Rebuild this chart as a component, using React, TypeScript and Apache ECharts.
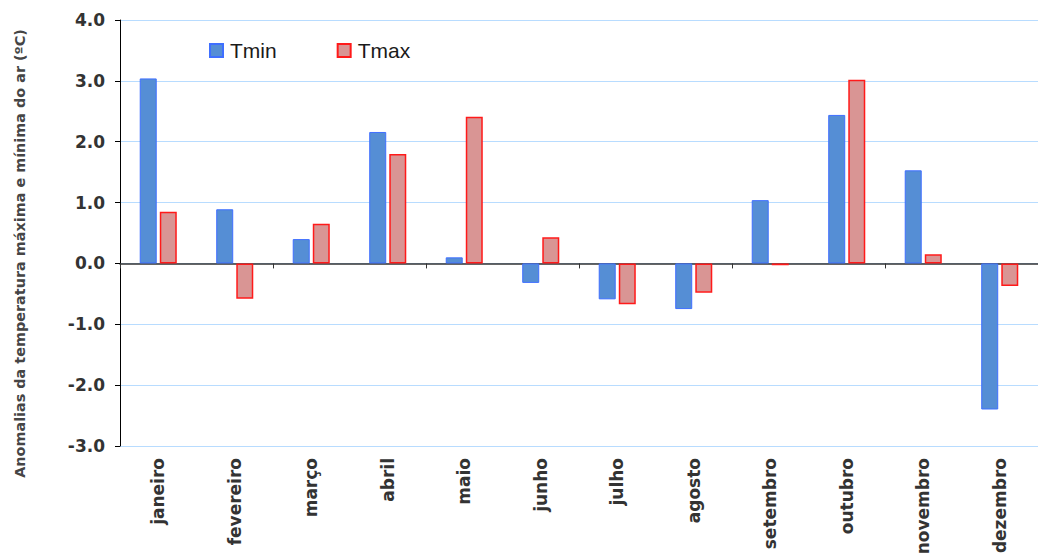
import React, { useEffect, useRef } from "react";
import * as echarts from "echarts";

const months = [
  "janeiro", "fevereiro", "março", "abril", "maio", "junho",
  "julho", "agosto", "setembro", "outubro", "novembro", "dezembro",
];
const tmin = [3.04, 0.89, 0.4, 2.16, 0.1, -0.32, -0.59, -0.75, 1.04, 2.44, 1.53, -2.4];
const tmax = [0.85, -0.58, 0.65, 1.8, 2.41, 0.43, -0.67, -0.48, -0.03, 3.02, 0.15, -0.37];
const yTicks = { min: -3, max: 4, interval: 1 };
const yTitle = "Anomalias da temperatura máxima e mínima do ar (ºC)";

const FONT = "'DejaVu Sans', Verdana, sans-serif";
const ARIAL = "'Liberation Sans', Arial, sans-serif";

export default function App() {
  const ref = useRef<HTMLDivElement>(null);
  useEffect(() => {
    if (!ref.current) return;
    const chart = echarts.init(ref.current, null, { renderer: "svg" });
    chart.setOption({
      animation: false,
      textStyle: { fontFamily: FONT },
      legend: {
        left: 209,
        top: 40,
        padding: 0,
        icon: "rect",
        itemWidth: 13,
        itemHeight: 13,
        itemGap: 60,
        textStyle: { fontFamily: ARIAL, fontSize: 21, color: "#1a1a1a", padding: [0, 0, 0, 2] },
        data: ["Tmin", "Tmax"],
      },
      graphic: [
        {
          type: "text",
          x: 20,
          y: 253.5,
          rotation: Math.PI / 2,
          style: {
            text: yTitle,
            fontFamily: FONT,
            fontSize: 14.4,
            fontWeight: "bold",
            fill: "#454545",
            align: "center",
            verticalAlign: "middle",
          },
        },
      ],
      grid: { left: 120, right: 0, top: 20, bottom: 107, outerBoundsMode: "none" },
      xAxis: [
        {
          type: "category",
          data: months,
          position: "top",
          axisLine: { onZero: true, lineStyle: { color: "#333", width: 1.5 } },
          axisTick: { show: true, inside: true, length: 5, lineStyle: { color: "#333" } },
          axisLabel: { show: false },
          splitLine: { show: false },
        },
        {
          type: "category",
          data: months,
          position: "bottom",
          axisLine: { show: false, onZero: false },
          axisTick: { show: false },
          axisLabel: {
            rotate: 90,
            margin: 12,
            fontSize: 17,
            fontWeight: "bold",
            color: "#333",
            fontFamily: FONT,
          },
        },
      ],
      yAxis: {
        type: "value",
        min: yTicks.min,
        max: yTicks.max,
        interval: yTicks.interval,
        axisLine: { show: true, lineStyle: { color: "#000", width: 1 } },
        axisTick: { show: true, length: 5, lineStyle: { color: "#000" } },
        axisLabel: {
          margin: 15,
          fontSize: 17,
          fontWeight: "bold",
          color: "#333",
          fontFamily: FONT,
          formatter: (v: number) => v.toFixed(1),
        },
        splitLine: { show: true, lineStyle: { color: "#b8dcff", width: 1 } },
      },
      series: [
        {
          name: "Tmin",
          type: "bar",
          xAxisIndex: 0,
          data: tmin,
          barWidth: 17,
          barGap: "18%",
          itemStyle: { color: "#558ed5", borderColor: "#3f6fff", borderWidth: 1 },
        },
        {
          name: "Tmax",
          type: "bar",
          xAxisIndex: 0,
          data: tmax,
          barWidth: 17,
          barGap: "18%",
          itemStyle: { color: "#d99594", borderColor: "#ff1a1a", borderWidth: 1.5 },
        },
      ],
    });
    return () => chart.dispose();
  }, []);
  return (
    <div
      ref={ref}
      style={{ position: "absolute", left: 0, top: 0, width: 1038, height: 553 }}
    />
  );
}
